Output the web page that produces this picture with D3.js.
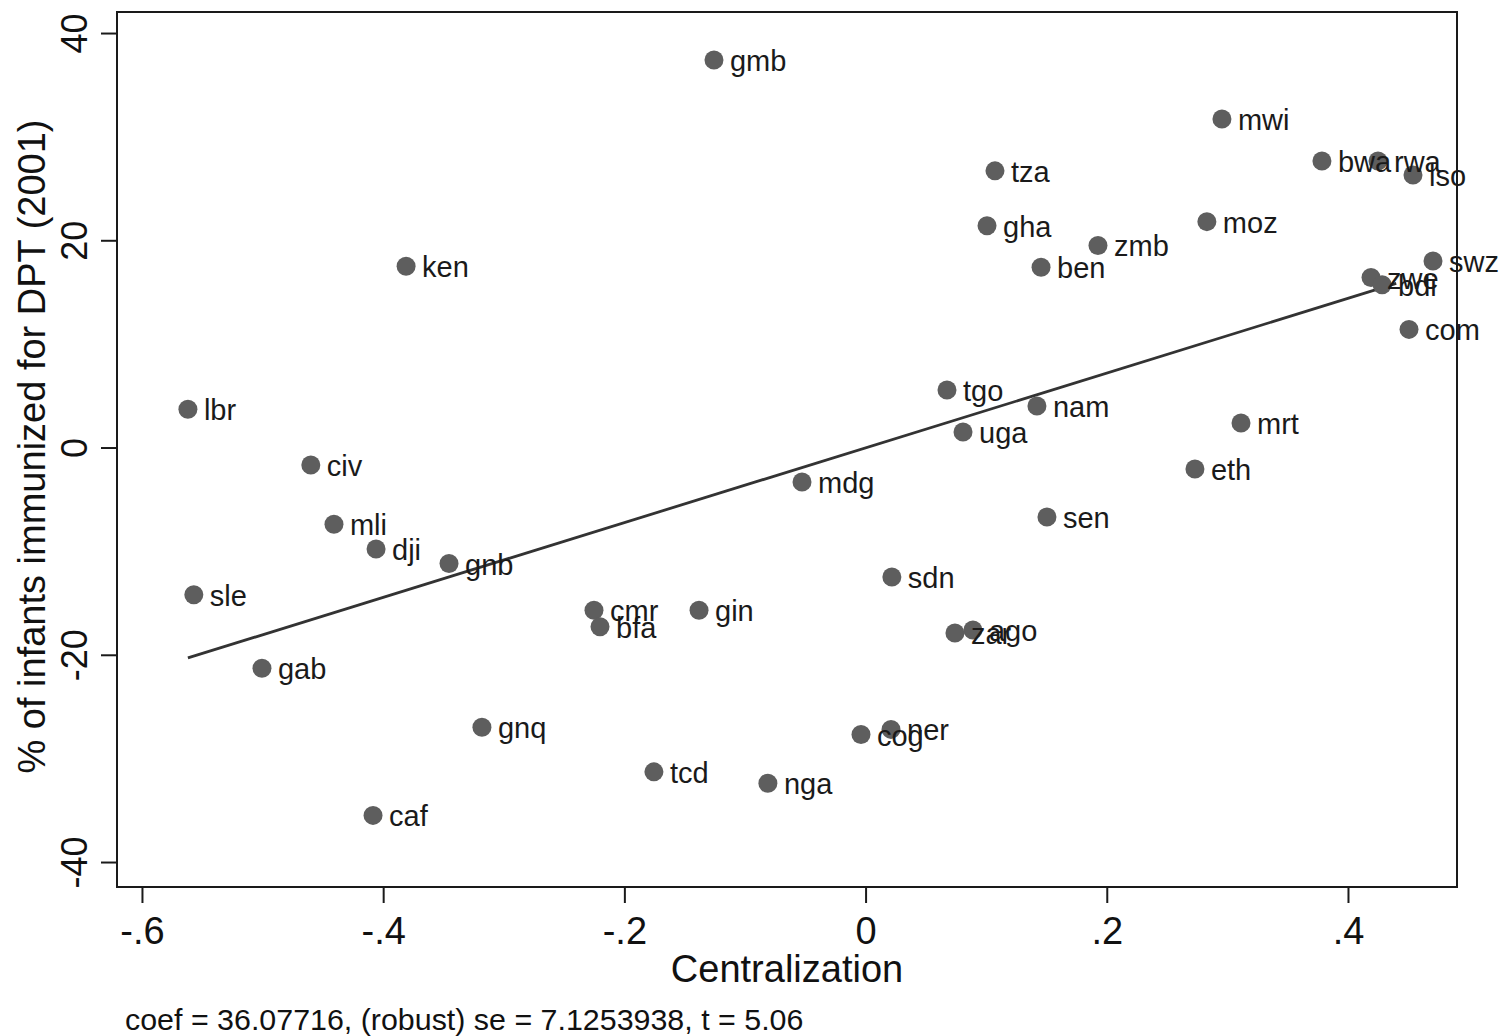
<!DOCTYPE html>
<html><head><meta charset="utf-8">
<script src="https://cdn.jsdelivr.net/npm/d3@7"></script>
<style>body{margin:0;background:#fff;} text{font-family:"Liberation Sans",Arial,sans-serif;}</style>
</head><body>
<svg id="c" width="1501" height="1036"></svg>
<script>
const countries = ["gmb","mwi","bwa","rwa","lso","tza","gha","moz","zmb","ben","ken","swz","zwe","bdi","com","tgo","nam","uga","mrt","eth","lbr","civ","mdg","sen","mli","dji","gnb","sle","sdn","cmr","bfa","gin","zar","ago","gab","gnq","cog","ner","tcd","nga","caf"];
const centralization = [-0.1257,0.2955,0.3784,0.4249,0.4539,0.1073,0.1007,0.283,0.1927,0.1455,-0.381,0.4705,0.4191,0.4283,0.4506,0.0675,0.1421,0.0808,0.3113,0.2731,-0.5619,-0.46,-0.0527,0.1504,-0.4408,-0.4059,-0.3454,-0.557,0.0218,-0.2252,-0.2202,-0.1381,0.0741,0.089,-0.5005,-0.3181,-0.0038,0.0211,-0.1755,-0.081,-0.4084];
const dpt = [37.4,31.7,27.65,27.65,26.3,26.7,21.4,21.8,19.5,17.4,17.5,18.0,16.4,15.7,11.4,5.55,4.0,1.5,2.36,-2.07,3.7,-1.69,-3.33,-6.7,-7.4,-9.8,-11.2,-14.2,-12.5,-15.7,-17.3,-15.7,-17.9,-17.6,-21.3,-27.0,-27.7,-27.2,-31.3,-32.4,-35.5];
const xTicks = [-0.6,-0.4,-0.2,0,0.2,0.4];
const xTickLabels = ["-.6","-.4","-.2","0",".2",".4"];
const yTicks = [-40,-20,0,20,40];
const yTickLabels = ["-40","-20","0","20","40"];
const fitSlope = 36.07716;
const fitIntercept = -0.03;
const fitRange = [-0.5619, 0.44];
const xTitle = "Centralization";
const yTitle = "% of infants immunized for DPT (2001)";
const note = "coef = 36.07716, (robust) se = 7.1253938, t = 5.06";

const svg = d3.select("#c");
const L=117,R=1457,T=12,B=887;
const x = d3.scaleLinear().domain([-0.6207,0.4904]).range([L,R]);
const y = d3.scaleLinear().domain([-42.41,42.03]).range([B,T]);

svg.append("rect").attr("x",L).attr("y",T).attr("width",R-L).attr("height",B-T)
  .attr("fill","none").attr("stroke","#1a1a1a").attr("stroke-width",2);

// x axis
const xa = svg.append("g").attr("transform",`translate(0,${B})`)
  .call(d3.axisBottom(x).tickValues(xTicks).tickSize(16).tickPadding(14)
    .tickFormat((d,i)=>xTickLabels[i]));
xa.select(".domain").remove();
xa.selectAll("line").attr("stroke","#1a1a1a").attr("stroke-width",2);
xa.selectAll("text").attr("font-size",38).attr("fill","#111").attr("font-family","Liberation Sans, Arial, sans-serif");

// y axis
const ya = svg.append("g").attr("transform",`translate(${L},0)`)
  .call(d3.axisLeft(y).tickValues(yTicks).tickSize(16).tickFormat((d,i)=>yTickLabels[i]));
ya.select(".domain").remove();
ya.selectAll("line").attr("stroke","#1a1a1a").attr("stroke-width",2);
ya.selectAll("text").attr("font-size",36).attr("fill","#111").attr("font-family","Liberation Sans, Arial, sans-serif")
  .attr("x",null).attr("dy",null).attr("text-anchor","middle")
  .attr("transform","translate(-30,0) rotate(-90)");

// fit line
svg.append("line")
  .attr("x1",x(fitRange[0])).attr("y1",y(fitIntercept+fitSlope*fitRange[0]))
  .attr("x2",x(fitRange[1])).attr("y2",y(fitIntercept+fitSlope*fitRange[1]))
  .attr("stroke","#333").attr("stroke-width",2.8);

// points
const data = countries.map((c,i)=>({c,x:centralization[i],y:dpt[i]}));
svg.append("g").selectAll("circle").data(data).join("circle")
  .attr("cx",d=>x(d.x)).attr("cy",d=>y(d.y)).attr("r",9.5).attr("fill","#5e5e5e");
svg.append("g").selectAll("text").data(data).join("text")
  .attr("x",d=>x(d.x)+16).attr("y",d=>y(d.y)+11)
  .attr("font-size",29).attr("fill","#1a1a1a").text(d=>d.c);

// titles
svg.append("text").attr("x",787).attr("y",982).attr("text-anchor","middle")
  .attr("font-size",38).attr("fill","#111").text(xTitle);
svg.append("text").attr("transform",`translate(45,${(113+780)/2}) rotate(-90)`)
  .attr("text-anchor","middle").attr("font-size",38).attr("fill","#111").text(yTitle);
svg.append("text").attr("x",125).attr("y",1030).attr("font-size",30.4).attr("fill","#111").text(note);
</script>
</body></html>
